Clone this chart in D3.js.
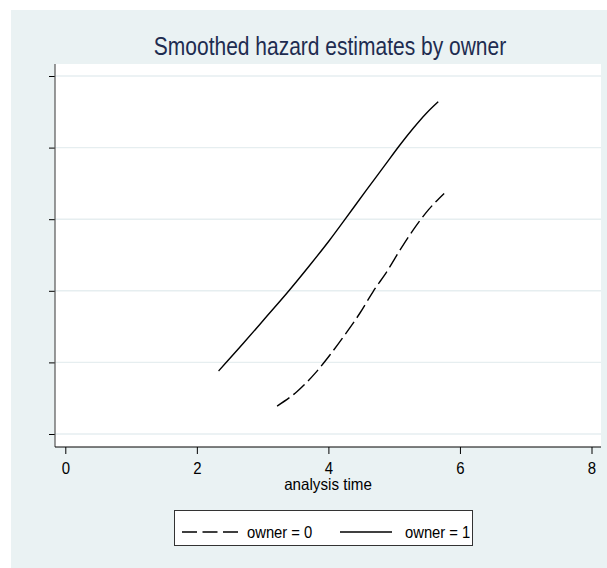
<!DOCTYPE html>
<html>
<head>
<meta charset="utf-8">
<script src="https://cdn.jsdelivr.net/npm/d3@7"></script>
<style>
  html, body { margin: 0; padding: 0; background: #ffffff; }
  svg { display: block; }
  text { font-family: "Liberation Sans", Arial, Helvetica, sans-serif; }
</style>
</head>
<body>
<svg id="chart" width="607" height="568"></svg>
<script>
// ---- data ----
const titleText = "Smoothed hazard estimates by owner";
const xLabel = "analysis time";
const xTicks = [0, 2, 4, 6, 8];
const yTicks = [0.01, 0.02, 0.03, 0.04, 0.05, 0.06];
const seriesNames = ["owner = 0", "owner = 1"];

// owner = 0 (dashed)
const owner0Time   = [3.22, 3.52, 3.80, 4.02, 4.23, 4.48, 4.68, 4.89, 5.09, 5.29, 5.52, 5.76];
const owner0Hazard = [0.0139, 0.0159, 0.0185, 0.0210, 0.0236, 0.0269, 0.0299, 0.0327, 0.0357, 0.0385, 0.0413, 0.0436];

// owner = 1 (solid)
const owner1Time   = [2.33, 2.71, 3.06, 3.39, 3.72, 4.02, 4.23, 4.58, 4.84, 5.09, 5.29, 5.49, 5.67];
const owner1Hazard = [0.0188, 0.0227, 0.0264, 0.0299, 0.0336, 0.0371, 0.0397, 0.0441, 0.0473, 0.0504, 0.0527, 0.0548, 0.0564];

// ---- layout ----
const svg = d3.select("#chart");
const plot = { left: 55, right: 601, top: 64, bottom: 447 };

svg.append("rect").attr("x", 11).attr("y", 10).attr("width", 596).attr("height", 558)
  .attr("fill", "#eaf2f3");
svg.append("rect").attr("x", plot.left).attr("y", plot.top)
  .attr("width", plot.right - plot.left).attr("height", plot.bottom - plot.top)
  .attr("fill", "#ffffff");

const x = d3.scaleLinear().domain([0, 8]).range([65.3, 591.5]);
const y = d3.scaleLinear().domain([0.01, 0.06]).range([434, 76]);

// gridlines
svg.append("g").selectAll("line").data(yTicks).join("line")
  .attr("x1", plot.left).attr("x2", plot.right)
  .attr("y1", d => y(d)).attr("y2", d => y(d))
  .attr("stroke", "#e6eef0").attr("stroke-width", 1.4);

// axes
const yAxis = d3.axisLeft(y).tickValues(yTicks).tickFormat("").tickSize(6).tickSizeOuter(0);
const gy = svg.append("g").attr("transform", `translate(${plot.left},0)`).call(yAxis);
gy.select(".domain").remove();
gy.selectAll(".tick line").attr("stroke", "#000").attr("stroke-width", 1);
svg.append("line").attr("x1", plot.left).attr("x2", plot.left)
  .attr("y1", plot.top).attr("y2", plot.bottom).attr("stroke", "#555").attr("stroke-width", 1.2);

const xAxis = d3.axisBottom(x).tickValues(xTicks).tickFormat(d3.format("d")).tickSize(7).tickPadding(7).tickSizeOuter(0);
const gx = svg.append("g").attr("transform", `translate(0,${plot.bottom})`).call(xAxis);
gx.select(".domain").remove();
gx.selectAll(".tick line").attr("stroke", "#000").attr("stroke-width", 1);
gx.selectAll(".tick text")
  .attr("y", 0).attr("dy", null)
  .attr("transform", "translate(0,26.5) scale(0.88,1)")
  .attr("font-size", 17).attr("fill", "#000")
  .attr("font-family", '"Liberation Sans", Arial, sans-serif');
svg.append("line").attr("x1", plot.left).attr("x2", plot.right)
  .attr("y1", plot.bottom).attr("y2", plot.bottom).attr("stroke", "#000").attr("stroke-width", 1);

// lines
const line = d3.line().x(d => x(d[0])).y(d => y(d[1])).curve(d3.curveMonotoneX);
const s0 = owner0Time.map((t, i) => [t, owner0Hazard[i]]);
const s1 = owner1Time.map((t, i) => [t, owner1Hazard[i]]);

svg.append("path").datum(s0).attr("d", line).attr("fill", "none")
  .attr("stroke", "#000").attr("stroke-width", 1.4).attr("stroke-dasharray", "15,5");
svg.append("path").datum(s1).attr("d", line).attr("fill", "none")
  .attr("stroke", "#000").attr("stroke-width", 1.4);

// title
svg.append("text").attr("transform", "translate(330,55) scale(0.84,1)")
  .attr("text-anchor", "middle")
  .attr("font-size", 25).attr("fill", "#1e2c50").text(titleText);

// x label
svg.append("text").attr("transform", "translate(328,489.5) scale(0.92,1)")
  .attr("text-anchor", "middle")
  .attr("font-size", 16.5).attr("fill", "#000").text(xLabel);

// legend
const lg = svg.append("g");
lg.append("rect").attr("x", 174.5).attr("y", 510.5).attr("width", 298).attr("height", 35)
  .attr("fill", "#fff").attr("stroke", "#333").attr("stroke-width", 1);
const legendItems = [
  { name: seriesNames[0], x1: 182, x2: 238, tx: 247, dash: "15,5.5" },
  { name: seriesNames[1], x1: 340, x2: 392, tx: 405, dash: null }
];
legendItems.forEach(it => {
  lg.append("line").attr("x1", it.x1).attr("x2", it.x2).attr("y1", 532).attr("y2", 532)
    .attr("stroke", "#000").attr("stroke-width", 1.4)
    .attr("stroke-dasharray", it.dash);
  lg.append("text").attr("transform", `translate(${it.tx},537.5) scale(0.87,1)`)
    .attr("font-size", 17).attr("fill", "#000").text(it.name);
});
</script>
</body>
</html>
